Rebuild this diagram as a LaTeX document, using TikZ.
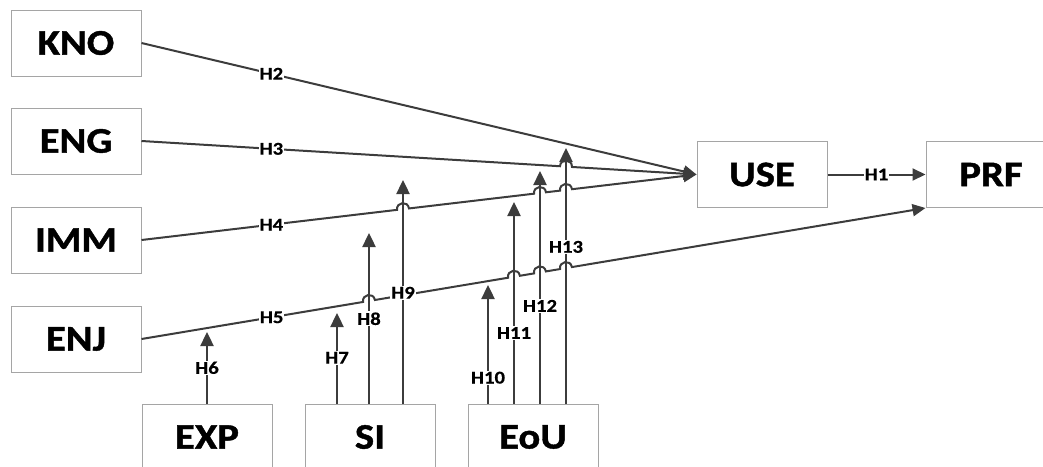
\documentclass[tikz,border=0pt]{standalone}
\usepackage{fontspec}
\newfontfamily\cf{Carlito}[FakeStretch=1.13,FakeBold=1.2]
\newfontfamily\lf{Carlito}[FakeStretch=1.15,FakeBold=0.5]
\usetikzlibrary{arrows.meta,calc}
\definecolor{linec}{RGB}{60,60,60}
\definecolor{boxc}{RGB}{165,165,165}
\newcommand\hopline[3]{%
  \foreach \hx [count=\i] in {#3} {
    \coordinate (hp-\i) at (intersection of #1--#2 and \hx,0--\hx,1);
    \coordinate (ha-\i) at ($(hp-\i)!6pt!(#1)$);
    \coordinate (hb-\i) at ($(hp-\i)!6pt!(#2)$);
  }
  \draw[conn] (#1) \foreach \hx [count=\i] in {#3} { -- (ha-\i) .. controls ($(ha-\i)!8pt!90:(#2)$) and ($(hb-\i)!8pt!90:(#2)$) .. (hb-\i) } -- (#2);
}
\begin{document}
\begin{tikzpicture}[x=1pt,y=-1pt,
  box/.style={draw=boxc,line width=1pt,minimum width=130pt,minimum height=66pt,inner sep=0pt,font=\cf\bfseries\fontsize{36}{38}\selectfont},
  conn/.style={draw=linec,line width=2pt,-{Triangle[length=13pt,width=12pt]}},
  varr/.style={draw=linec,line width=2.4pt,-{Triangle[length=14pt,width=13pt]}},
  lab/.style={fill=white,inner sep=1pt,font=\lf\bfseries\fontsize{18}{19}\selectfont,text=black}]
\useasboundingbox (0,0) rectangle (1043,466);
% boxes
\node[box] (KNO) at (76,43) {KNO};
\node[box] (ENG) at (76,141) {ENG};
\node[box] (IMM) at (76,240) {IMM};
\node[box] (ENJ) at (76,339) {ENJ};
\node[box] (USE) at (762,174.5) {USE};
\node[box] (PRF) at (991,174.5) {PRF};
\node[box] (EXP) at (207,437) {EXP};
\node[box] (SI) at (370,437) {SI};
\node[box] (EoU) at (533,437) {EoU};
% diagonal connectors
\draw[conn] (KNO.east) -- (USE.west);
\hopline{ENG.east}{USE.west}{566}
\hopline{IMM.east}{USE.west}{403,540,566}
\hopline{ENJ.east}{PRF.south west}{369,514,540,566}
\draw[conn] (USE.east) -- (PRF.west) node[lab,pos=0.5] {H1};
\node[lab] at ($(KNO.east)!0.234!(USE.west)$) {H2};
\node[lab] at ($(ENG.east)!0.234!(USE.west)$) {H3};
\node[lab] at ($(IMM.east)!0.234!(USE.west)$) {H4};
\node[lab] at ($(ENJ.east)!0.166!(PRF.south west)$) {H5};
% tips of moderating arrows
\coordinate (t6) at (207,332);
\coordinate (t7) at (337,313);
\coordinate (t8) at (369,233);
\coordinate (t9) at (403,180);
\coordinate (t10) at (488,285);
\coordinate (t11) at (514,202);
\coordinate (t12) at (540,171);
\coordinate (t13) at (566,148);
\draw[varr] (EXP.north) -- (t6) node[lab,pos=0.5] {H6};
\draw[varr] ([xshift=-33pt]SI.north) -- (t7) node[lab,pos=0.505] {H7};
\draw[varr] ([xshift=-1pt]SI.north) -- (t8) node[lab,pos=0.497] {H8};
\draw[varr] ([xshift=33pt]SI.north) -- (t9) node[lab,pos=0.4955] {H9};
\draw[varr] ([xshift=-45pt]EoU.north) -- (t10) node[lab,pos=0.218] {H10};
\draw[varr] ([xshift=-19pt]EoU.north) -- (t11) node[lab,pos=0.35] {H11};
\draw[varr] ([xshift=7pt]EoU.north) -- (t12) node[lab,pos=0.42] {H12};
\draw[varr] ([xshift=33pt]EoU.north) -- (t13) node[lab,pos=0.613] {H13};
\end{tikzpicture}
\end{document}
